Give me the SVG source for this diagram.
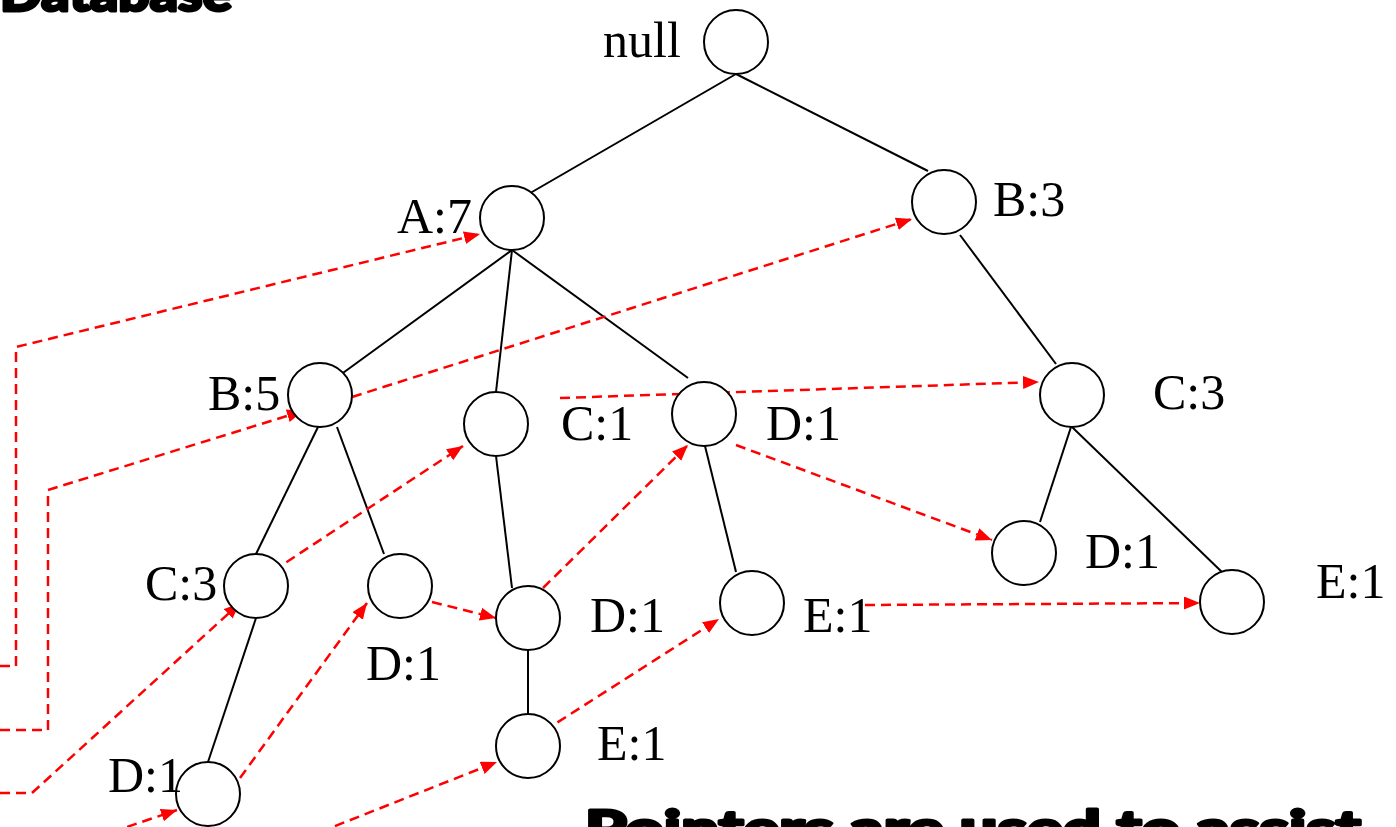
<svg xmlns="http://www.w3.org/2000/svg" width="1396" height="827" viewBox="0 0 1396 827">
  <style>
    .node circle { fill: #ffffff; stroke: #000000; stroke-width: 2; }
    .node text { font-family: "Liberation Serif", "Times New Roman", serif; font-size: 50px; fill: #000000; }
    .edge { stroke: #000000; stroke-width: 2; fill: none; }
    .link { stroke: #ff0000; stroke-width: 2.5; stroke-dasharray: 10 6; fill: none; }
    .heading { font-family: Lato, "DejaVu Sans", "Liberation Sans", sans-serif; font-weight: 900; font-size: 50px; fill: #000000; stroke: #000000; stroke-width: 3; stroke-linejoin: round; }
  </style>
  <defs>
    <marker id="arrow" markerUnits="userSpaceOnUse" markerWidth="18" markerHeight="14" refX="16" refY="6.5" orient="auto">
      <path d="M0,0 L16,6.5 L0,13 z" fill="#ff0000"/>
    </marker>
  </defs>

  <rect width="1396" height="827" fill="#ffffff"/>

  <text class="heading" x="0" y="11" textLength="232" lengthAdjust="spacingAndGlyphs">Database</text>
  <text class="heading" x="585" y="846" textLength="776" lengthAdjust="spacingAndGlyphs">Pointers are used to assist</text>

  <!-- tree edges and node-link pointers -->
  <g id="connectors">
    <g id="tree-edges">
      <line class="edge" x1="736" y1="74" x2="513" y2="203"/>
      <line class="edge" x1="736" y1="74" x2="928" y2="171"/>
      <line class="edge" x1="512" y1="250" x2="336" y2="378"/>
      <line class="edge" x1="512" y1="250" x2="496" y2="392"/>
      <line class="edge" x1="512" y1="250" x2="688" y2="378"/>
      <line class="edge" x1="960" y1="235" x2="1056" y2="364"/>
      <line class="edge" x1="318" y1="427" x2="256" y2="554"/>
      <line class="edge" x1="337" y1="427" x2="384" y2="554"/>
      <line class="edge" x1="496" y1="456" x2="512" y2="588"/>
      <line class="edge" x1="705" y1="446" x2="736" y2="572"/>
      <line class="edge" x1="1071" y1="427" x2="1040" y2="522"/>
      <line class="edge" x1="1072" y1="427" x2="1224" y2="574"/>
      <line class="edge" x1="256" y1="618" x2="208" y2="762"/>
      <line class="edge" x1="528" y1="650" x2="528" y2="714"/>
    </g>
    <g id="node-links">
      <polyline class="link" points="0,666 16,666 16,347 480,234" marker-end="url(#arrow)"/>
      <polyline class="link" points="0,730 48,730 48,490 303,411" marker-end="url(#arrow)"/>
      <polyline class="link" points="0,793 32,793 240,603" marker-end="url(#arrow)"/>
      <line class="link" x1="112" y1="832" x2="177" y2="810" marker-end="url(#arrow)"/>
      <line class="link" x1="320" y1="832" x2="497" y2="762" marker-end="url(#arrow)"/>
      <line class="link" x1="240" y1="778" x2="367" y2="603" marker-end="url(#arrow)"/>
      <line class="link" x1="273" y1="571" x2="463" y2="446" marker-end="url(#arrow)"/>
      <line class="link" x1="352" y1="397" x2="912" y2="219" marker-end="url(#arrow)"/>
      <line class="link" x1="560" y1="398" x2="1039" y2="382" marker-end="url(#arrow)"/>
      <line class="link" x1="432" y1="602" x2="496" y2="618" marker-end="url(#arrow)"/>
      <line class="link" x1="543" y1="588" x2="688" y2="445" marker-end="url(#arrow)"/>
      <line class="link" x1="736" y1="445" x2="992" y2="540" marker-end="url(#arrow)"/>
      <line class="link" x1="544" y1="731" x2="719" y2="619" marker-end="url(#arrow)"/>
      <line class="link" x1="865" y1="605" x2="1200" y2="603" marker-end="url(#arrow)"/>
    </g>
  </g>

  <g id="node-null" class="node">
    <circle cx="736" cy="42" r="32"/>
    <text x="603" y="57">null</text>
  </g>
  <g id="node-a7" class="node">
    <circle cx="512" cy="218" r="32"/>
    <text x="397" y="233">A:7</text>
  </g>
  <g id="node-b3" class="node">
    <circle cx="944" cy="202" r="32"/>
    <text x="993" y="216">B:3</text>
  </g>
  <g id="node-b5" class="node">
    <circle cx="320" cy="395" r="32"/>
    <text x="208" y="410">B:5</text>
  </g>
  <g id="node-c1" class="node">
    <circle cx="496" cy="424" r="32"/>
    <text x="561" y="440">C:1</text>
  </g>
  <g id="node-d1-a" class="node">
    <circle cx="704" cy="414" r="32"/>
    <text x="766" y="440">D:1</text>
  </g>
  <g id="node-c3-b" class="node">
    <circle cx="1072" cy="395" r="32"/>
    <text x="1153" y="409">C:3</text>
  </g>
  <g id="node-c3-a" class="node">
    <circle cx="256" cy="586" r="32"/>
    <text x="145" y="600">C:3</text>
  </g>
  <g id="node-d1-b5" class="node">
    <circle cx="400" cy="586" r="32"/>
    <text x="366" y="680">D:1</text>
  </g>
  <g id="node-d1-c1" class="node">
    <circle cx="528" cy="618" r="32"/>
    <text x="590" y="632">D:1</text>
  </g>
  <g id="node-e1-d1" class="node">
    <circle cx="752" cy="603" r="32"/>
    <text x="803" y="632">E:1</text>
  </g>
  <g id="node-d1-c3" class="node">
    <circle cx="1024" cy="553" r="32"/>
    <text x="1085" y="568">D:1</text>
  </g>
  <g id="node-e1-c3" class="node">
    <circle cx="1232" cy="602" r="32"/>
    <text x="1316" y="598">E:1</text>
  </g>
  <g id="node-e1-d1c1" class="node">
    <circle cx="528" cy="746" r="32"/>
    <text x="597" y="760">E:1</text>
  </g>
  <g id="node-d1-c3a" class="node">
    <circle cx="208" cy="794" r="32"/>
    <text x="108" y="792">D:1</text>
  </g>
</svg>
